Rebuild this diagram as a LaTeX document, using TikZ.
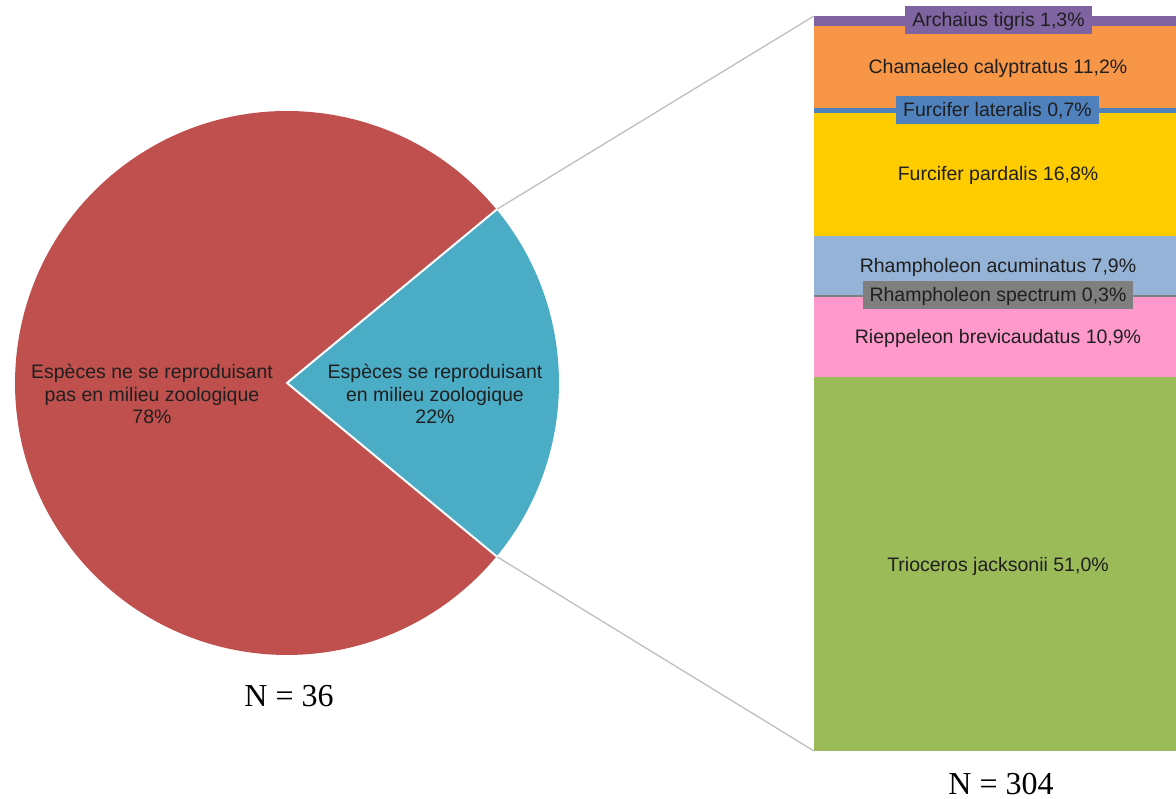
\documentclass[tikz,border=0pt]{standalone}
\usetikzlibrary{calc}
\usepackage{fontspec}
\setmainfont{Liberation Sans}
\newfontfamily\serifN{Liberation Serif}
\definecolor{cRed}{HTML}{C0504D}
\definecolor{cBlue}{HTML}{4BACC6}
\definecolor{cPurple}{HTML}{8064A2}
\definecolor{cOrange}{HTML}{F79646}
\definecolor{cSteel}{HTML}{4F81BD}
\definecolor{cYellow}{HTML}{FFCC00}
\definecolor{cLight}{HTML}{95B3D7}
\definecolor{cGray}{HTML}{7F7F7F}
\definecolor{cPink}{HTML}{FF99CC}
\definecolor{cGreen}{HTML}{9BBB59}
\definecolor{cLine}{HTML}{BFBFBF}
\tikzset{
  lab/.style={font=\fontsize{19.5}{22.5}\selectfont, text=black!88, align=center, inner sep=0pt},
  blab/.style={lab, anchor=base},
  boxlab/.style={lab, anchor=base, text height=14pt, text depth=0pt, inner xsep=7pt, inner ysep=7pt},
  nlab/.style={font=\serifN\fontsize{32}{36}\selectfont, inner sep=0pt, anchor=base},
  conn/.style={draw=cLine, line width=1.3pt},
  slice/.style={draw=white, line width=2pt, line join=round}
}
\begin{document}
\begin{tikzpicture}[x=1pt,y=1pt]
\useasboundingbox (0,0) rectangle (1176,799);
% pie
\coordinate (c) at (287,416);
\fill[cRed] (c) -- ++(39.6:272) arc[start angle=39.6, end angle=320.4, radius=272] -- cycle;
\fill[cBlue] (c) -- ++(-39.6:272) arc[start angle=-39.6, end angle=39.6, radius=272] -- cycle;
\draw[slice] ($(c)+(39.6:273)$) -- (c) -- ($(c)+(-39.6:273)$);
\coordinate (pt) at ($(c)+(39.6:273)$);
\coordinate (pb) at ($(c)+(-39.6:273)$);
\node[lab] (l78) at (152,405) {Espèces ne se reproduisant\\pas en milieu zoologique\\78\%};
\node[lab] (l22) at (435,405) {Espèces se reproduisant\\en milieu zoologique\\22\%};
\node[nlab] (n36) at (289,92) {N = 36};
% bar (y = 799 - px)
\fill[cPurple] (814,783) rectangle (1176,773.4);
\fill[cOrange] (814,773.4) rectangle (1176,691.1);
\fill[cSteel]  (814,691.1) rectangle (1176,686);
\fill[cYellow] (814,686) rectangle (1176,562.5);
\fill[cLight]  (814,562.5) rectangle (1176,504.4);
\fill[cGray]   (814,504.4) rectangle (1176,502.2);
\fill[cPink]   (814,502.2) rectangle (1176,422.1);
\fill[cGreen]  (814,422.1) rectangle (1176,48);
\coordinate (bt) at (814,783);
\coordinate (bb) at (814,48);
\draw[conn] (pt) -- (bt);
\draw[conn] (pb) -- (bb);
\node[boxlab, fill=cPurple] (arch) at (998.5,772) {Archaius tigris 1,3\%};
\node[blab] (cham) at (998,725) {Chamaeleo calyptratus 11,2\%};
\node[boxlab, fill=cSteel] (flat) at (997.5,682) {Furcifer lateralis 0,7\%};
\node[blab] (fpar) at (998,618) {Furcifer pardalis 16,8\%};
\node[blab] (racu) at (998,526) {Rhampholeon acuminatus 7,9\%};
\node[boxlab, fill=cGray] (rspe) at (998,497) {Rhampholeon spectrum 0,3\%};
\node[blab] (rbre) at (998,455) {Rieppeleon brevicaudatus 10,9\%};
\node[blab] (tjac) at (998,227) {Trioceros jacksonii 51,0\%};
\node[nlab] (n304) at (1001,4) {N = 304};
\end{tikzpicture}
\end{document}
